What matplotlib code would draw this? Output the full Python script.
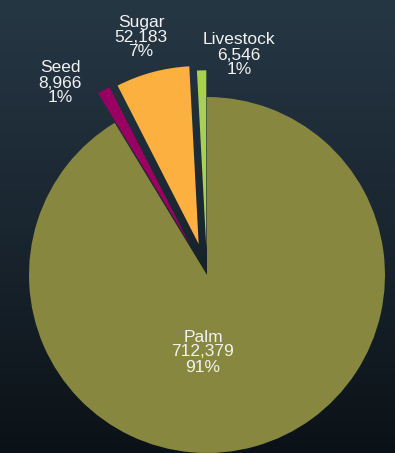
import numpy as np
import matplotlib
matplotlib.use("Agg")
import matplotlib.pyplot as plt
from matplotlib.colors import LinearSegmentedColormap

categories = ["Palm", "Seed", "Sugar", "Livestock"]
values = [712379, 8966, 52183, 6546]
colors = ["#87873f", "#9a0062", "#fbb040", "#a8d052"]
explode = [0.0, 0.19, 0.18, 0.15]

W, H = 395, 453
fig = plt.figure(figsize=(W / 100, H / 100), dpi=100)

# background gradient
bg = fig.add_axes([0, 0, 1, 1], zorder=0)
grad = np.linspace(0, 1, 256).reshape(-1, 1)
cmap = LinearSegmentedColormap.from_list("bg", ["#263744", "#1a2630", "#0b1217"])
bg.imshow(grad, aspect="auto", cmap=cmap, extent=[0, 1, 0, 1], origin="upper")
bg.axis("off")

ax = fig.add_axes([0, 0, 1, 1], zorder=1)
ax.patch.set_alpha(0)
cx, cy, R = 207, H - 275, 178
total = sum(values)
ax.pie(values, colors=colors, explode=[e * R for e in explode], startangle=90,
       counterclock=False, center=(cx, cy), radius=R, wedgeprops=dict(linewidth=0))
ax.set_xlim(0, W)
ax.set_ylim(0, H)
ax.set_aspect("equal")
ax.axis("off")

# label anchor offsets (pixels from pie centre)
label_offsets = {"Palm": (-4, -77), "Seed": (-147, 192), "Sugar": (-66, 238), "Livestock": (32, 220)}
for cat, v in zip(categories, values):
    dx, dy = label_offsets[cat]
    pct = round(100 * v / total)
    ax.text(cx + dx, cy + dy, f"{cat}\n{v:,}\n{pct}%", ha="center", va="center",
            color="#f2f2f2", fontsize=12.5, family="Liberation Sans", linespacing=1.0)

fig.savefig("out.png", dpi=100)
